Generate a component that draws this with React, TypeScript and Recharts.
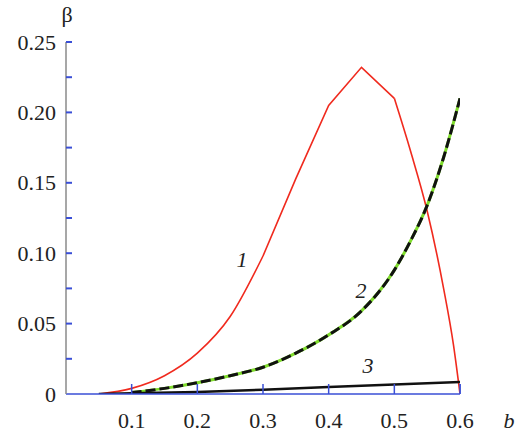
import React from "react";
import { LineChart, Line, XAxis, YAxis } from "recharts";

// curve 1 (red): smooth rise, straight middle, smooth fall
const curve1RiseB = [0.05, 0.1, 0.15, 0.2, 0.25, 0.3];
const curve1RiseBeta = [0, 0.004, 0.013, 0.029, 0.055, 0.098];
const curve1PeakB = [0.3, 0.35, 0.4, 0.45, 0.5];
const curve1PeakBeta = [0.098, 0.153, 0.205, 0.232, 0.21];
const curve1FallB = [0.5, 0.525, 0.55, 0.575, 0.59, 0.6];
const curve1FallBeta = [0.21, 0.172, 0.13, 0.075, 0.035, 0];

// curve 2 (black dashed on green)
const curve2B = [0.1, 0.15, 0.2, 0.25, 0.3, 0.35, 0.4, 0.45, 0.5, 0.525, 0.55, 0.575, 0.6];
const curve2Beta = [0.001, 0.004, 0.008, 0.013, 0.019, 0.029, 0.042, 0.059, 0.088, 0.109, 0.134, 0.168, 0.21];

// curve 3 (black)
const curve3B = [0.05, 0.1, 0.2, 0.3, 0.4, 0.5, 0.6];
const curve3Beta = [0, 0.0005, 0.0015, 0.003, 0.005, 0.0068, 0.0085];

const xTicks = [0.1, 0.2, 0.3, 0.4, 0.5, 0.6];
const yTicks = [0, 0.025, 0.05, 0.075, 0.1, 0.125, 0.15, 0.175, 0.2, 0.225, 0.25];
const yLabels: Record<string, string> = {
  "0": "0",
  "0.05": "0.05",
  "0.1": "0.10",
  "0.15": "0.15",
  "0.2": "0.20",
  "0.25": "0.25",
};

const toRows = (xs: number[], ys: number[]) => xs.map((b, i) => ({ b, beta: ys[i] }));

const data1a = toRows(curve1RiseB, curve1RiseBeta);
const data1b = toRows(curve1PeakB, curve1PeakBeta);
const data1c = toRows(curve1FallB, curve1FallBeta);
const data2 = toRows(curve2B, curve2Beta);
const data3 = toRows(curve3B, curve3Beta);

const blue = "#3a4fd6";
const red = "#f02a1e";
const font = "'Times New Roman', Tinos, 'Liberation Serif', Times, serif";
const txt = { fontFamily: font, fontSize: 22 };

const XTick = ({ x, y, payload }: any) => (
  <g>
    <line x1={x} x2={x} y1={y} y2={y - 10} stroke={blue} strokeWidth={1.5} />
    <text x={x} y={y + 34} textAnchor="middle" style={txt} fill="#222">
      {String(payload.value)}
    </text>
  </g>
);

const YTick = ({ x, y, payload }: any) => {
  const key = String(Number(payload.value.toFixed(3)));
  const label = yLabels[key];
  return (
    <g>
      {payload.value > 0 && <line x1={x} x2={x + 6} y1={y} y2={y} stroke={blue} strokeWidth={2} />}
      {label !== undefined && (
        <text x={x - 10} y={y + 7.5} textAnchor="end" style={txt} fill="#222">
          {label}
        </text>
      )}
    </g>
  );
};

export default function App() {
  return (
    <div style={{ position: "absolute", left: 0, top: 0, width: 518, height: 436, background: "#fff" }}>
      <LineChart width={518} height={436} margin={{ top: 42, right: 58, left: 0, bottom: 0 }}>
        <XAxis
          type="number"
          dataKey="b"
          domain={[0, 0.6]}
          ticks={xTicks}
          height={42}
          tickSize={0}
          tickMargin={0}
          tickLine={false}
          tick={<XTick />}
          axisLine={{ stroke: blue, strokeWidth: 1.5 }}
          allowDataOverflow
        />
        <YAxis
          type="number"
          domain={[0, 0.25]}
          ticks={yTicks}
          width={66}
          tickSize={0}
          tickMargin={0}
          tickLine={false}
          tick={<YTick />}
          axisLine={{ stroke: "#8a8a8a", strokeWidth: 1.5 }}
          interval={0}
          allowDataOverflow
        />
        <Line data={data1a} dataKey="beta" type="monotone" stroke={red} strokeWidth={1.6} dot={false} isAnimationActive={false} />
        <Line data={data1b} dataKey="beta" type="linear" stroke={red} strokeWidth={1.6} dot={false} isAnimationActive={false} />
        <Line data={data1c} dataKey="beta" type="monotone" stroke={red} strokeWidth={1.6} dot={false} isAnimationActive={false} />
        <Line
          data={data2}
          dataKey="beta"
          type="monotone"
          stroke="#7fdc2c"
          strokeWidth={3}
          dot={false}
          isAnimationActive={false}
        />
        <Line
          data={data2}
          dataKey="beta"
          type="monotone"
          stroke="#111"
          strokeWidth={3}
          strokeDasharray="10 4"
          dot={false}
          isAnimationActive={false}
        />
        <Line
          data={data3}
          dataKey="beta"
          type="linear"
          stroke="#111"
          strokeWidth={2.5}
          dot={false}
          isAnimationActive={false}
        />
        <line x1={460} x2={460} y1={384} y2={394} stroke={blue} strokeWidth={1.5} />
      </LineChart>
      <svg
        width={518}
        height={436}
        style={{ position: "absolute", left: 0, top: 0, pointerEvents: "none", fontFamily: font }}
      >
        <text x={67} y={22} textAnchor="middle" fontSize={22} fill="#222">β</text>
        <text x={509} y={428} textAnchor="middle" fontSize={22} fontStyle="italic" fill="#222">b</text>
        <text x={242} y={267} textAnchor="middle" fontSize={22} fontStyle="italic" fill="#222">1</text>
        <text x={361} y={298} textAnchor="middle" fontSize={22} fontStyle="italic" fill="#222">2</text>
        <text x={368} y={373} textAnchor="middle" fontSize={22} fontStyle="italic" fill="#222">3</text>
      </svg>
    </div>
  );
}
